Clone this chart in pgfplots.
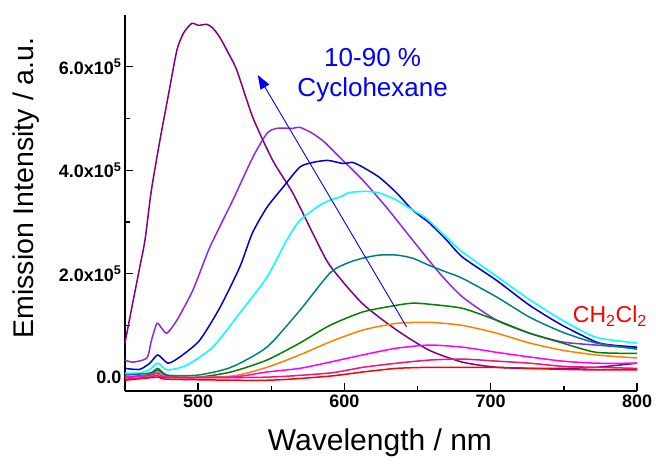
\documentclass[border=0pt]{standalone}
\usepackage{fontspec}
\setmainfont{Liberation Sans}
\usepackage{pgfplots}
\pgfplotsset{compat=1.18}
\usetikzlibrary{arrows.meta}
\definecolor{cpurple}{HTML}{800080}
\definecolor{cviolet}{HTML}{8A2BE2}
\definecolor{cblue}{HTML}{0000D0}
\definecolor{ccyan}{HTML}{00FFFF}
\definecolor{cteal}{HTML}{008080}
\definecolor{cgreen}{HTML}{008000}
\definecolor{corange}{HTML}{FF8000}
\definecolor{cmagenta}{HTML}{FF00FF}
\definecolor{ccrimson}{HTML}{F0147A}
\definecolor{cred}{HTML}{FF0000}
\begin{document}
\begin{tikzpicture}
\begin{axis}[
    scale only axis,
    width=512pt, height=376pt,
    xmin=450, xmax=800, ymin=-0.27, ymax=7.0,
    axis x line=bottom, axis y line=left,
    axis line style={-, line width=1.6pt},
    tick align=inside,
    major tick length=8pt, minor tick length=5pt,
    every tick/.style={line width=1.4pt, black},
    xtick={500,600,700,800},
    xticklabels={500,600,700,800},
    minor xtick={550,650,750},
    ytick={0,2,4,6},
    yticklabels={0.0, 2.0x10\textsuperscript{5}, 4.0x10\textsuperscript{5}, 6.0x10\textsuperscript{5}},
    minor ytick={1,3,5},
    ticklabel style={font=\fontsize{18}{20}\selectfont\bfseries},
    xlabel={Wavelength / nm},
    ylabel={Emission Intensity / a.u.},
    xlabel style={font=\fontsize{30}{32}\selectfont, at={(axis description cs:0.498,-0.138)}, anchor=center},
    ylabel style={font=\fontsize{28.5}{30}\selectfont, at={(axis description cs:-0.193,0.54)}, anchor=center},
    clip=false,
    every axis plot/.append style={line width=1.5pt, no marks, smooth, tension=0.4},
]
% dark purple (90 %)
\addplot[cpurple] coordinates {(450,0.66)(455,1.39)(460,2.11)(463.7,2.65)(468,3.6)(473.9,4.58)(480,5.5)(485.5,6.32)(490,6.65)(495.7,6.84)(500,6.80)(506,6.82)(510,6.75)(514.8,6.57)(520,6.3)(526.5,5.93)(537.4,5.02)(551,4.19)(564.7,3.56)(578.4,2.78)(590,2.16)(612,1.43)(635.7,0.91)(658,0.52)(680.7,0.29)(704,0.19)(726.5,0.17)(749,0.17)(772,0.19)(800,0.27)};
% violet
\addplot[cviolet] coordinates {(450,0.33)(455.5,0.29)(465,0.37)(468,0.7)(471.8,1.04)(475,0.95)(478.7,0.85)(485.5,1.10)(496.4,1.68)(508,2.51)(523.7,3.42)(537.4,4.25)(547,4.71)(553.8,4.81)(564.7,4.81)(569.5,4.83)(578.3,4.71)(586.5,4.54)(596.8,4.25)(612.5,3.81)(628.8,3.28)(646.6,2.65)(665,2.01)(680.7,1.55)(704,1.10)(726.5,0.85)(749,0.68)(772,0.62)(800,0.56)};
% blue
\addplot[cblue] coordinates {(450,0.17)(460,0.15)(467,0.27)(472.5,0.43)(479.4,0.27)(487.5,0.39)(501,0.71)(515,1.35)(528.5,2.13)(537,2.78)(547,3.28)(558,3.67)(569.5,4.06)(578.3,4.15)(588.6,4.19)(599,4.13)(605.6,4.15)(612.5,4.06)(624,3.86)(635.7,3.56)(646.6,3.23)(658,2.98)(669.8,2.65)(680.7,2.32)(704,1.87)(726.5,1.39)(749,1.00)(772,0.68)(783,0.62)(800,0.58)};
% cyan
\addplot[ccyan] coordinates {(450,0.08)(460,0.08)(467,0.15)(472.5,0.27)(479,0.14)(492,0.23)(510,0.58)(528.5,1.24)(547,1.93)(560.6,2.65)(569.5,3.03)(583,3.32)(590,3.42)(596.8,3.48)(603.6,3.57)(615,3.59)(624,3.56)(635.7,3.42)(646.6,3.23)(656,3.07)(669.8,2.70)(680.7,2.42)(704,1.95)(726.5,1.50)(749,1.10)(772,0.77)(800,0.66)};
% teal
\addplot[cteal] coordinates {(450,0.04)(467,0.08)(472.5,0.17)(479,0.04)(500,0.04)(522.5,0.19)(547,0.58)(569.5,1.29)(590,2.01)(601.5,2.20)(612.5,2.30)(624,2.36)(635.7,2.36)(646.6,2.30)(658,2.16)(669.8,2.03)(680.7,1.91)(704,1.55)(726.5,1.16)(749,0.87)(772,0.66)(800,0.54)};
% green
\addplot[cgreen] coordinates {(450,0.0)(467,0.05)(472.5,0.14)(479,0.02)(500,0.0)(522.5,0.10)(547,0.33)(569.5,0.66)(590,1.0)(612.5,1.26)(635.7,1.39)(646.6,1.43)(658,1.41)(680.7,1.33)(704,1.10)(726.5,0.85)(749,0.66)(772,0.48)(800,0.46)};
% orange
\addplot[corange] coordinates {(450,0.0)(467,0.03)(472.5,0.1)(479,0.0)(522.5,0.02)(547,0.19)(569.5,0.43)(590,0.68)(612.5,0.91)(635.7,1.04)(658,1.06)(680.7,1.00)(704,0.85)(726.5,0.66)(749,0.52)(772,0.43)(800,0.37)};
% magenta
\addplot[cmagenta] coordinates {(450,0.0)(467,0.03)(472.5,0.08)(479,0.0)(522.5,0.0)(547,0.10)(569.5,0.17)(590,0.29)(612.5,0.43)(635.7,0.56)(658,0.62)(680.7,0.58)(704,0.48)(726.5,0.39)(749,0.31)(772,0.27)(800,0.27)};
% crimson
\addplot[ccrimson] coordinates {(450,-0.04)(467,0.0)(472.5,0.04)(479,-0.01)(547,0.0)(590,0.08)(612.5,0.19)(635.7,0.27)(658,0.33)(680.7,0.35)(704,0.31)(726.5,0.27)(749,0.21)(772,0.19)(800,0.17)};
% red (CH2Cl2)
\addplot[cred] coordinates {(450,-0.06)(472.5,0.0)(480,-0.04)(547,-0.06)(590,0.02)(612.5,0.10)(635.7,0.17)(658,0.19)(680.7,0.19)(704,0.19)(726.5,0.17)(749,0.15)(772,0.14)(800,0.14)};
% arrow and annotations
\draw[blue, line width=0.9pt, -{Triangle[length=14pt, width=10pt]}] (axis cs:642.5,0.97) -- (axis cs:540.8,5.84);
\node[blue, font=\fontsize{26}{28}\selectfont] at (axis cs:619.3,6.18) {10-90 \%};
\node[blue, font=\fontsize{26}{28}\selectfont] at (axis cs:619.3,5.55) {Cyclohexane};
\node[red, font=\fontsize{23}{25}\selectfont, anchor=west] at (axis cs:753.8,1.18) {CH\textsubscript{2}Cl\textsubscript{2}};
\path (rel axis cs:-0.244,-0.194) rectangle (rel axis cs:1.037,1.040);
\end{axis}
\end{tikzpicture}
\end{document}
